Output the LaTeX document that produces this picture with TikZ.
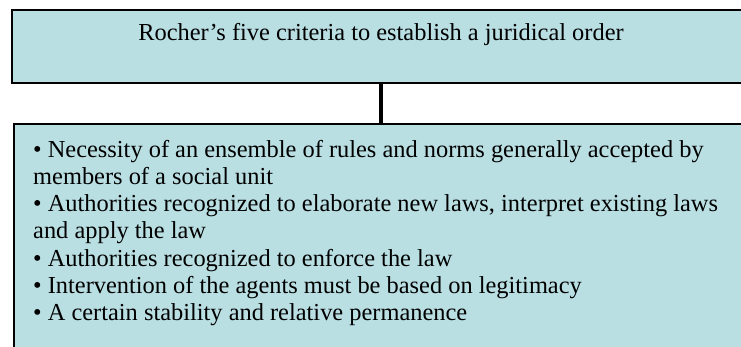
\documentclass[tikz,border=0pt]{standalone}
\usepackage{fontspec}
\setmainfont{Liberation Serif}
\definecolor{boxfill}{RGB}{185,223,227}
\begin{document}
\begin{tikzpicture}[x=1pt,y=-1pt,
  panel/.style={draw=black,fill=boxfill,line width=1.6pt,rectangle,inner sep=0pt,anchor=north west},
  txt/.style={font=\fontsize{24.4}{27.3}\selectfont,inner sep=0pt},
  link/.style={line width=4.5pt,draw=black}]
\useasboundingbox (0,0) rectangle (741,347);
\clip (0,0) rectangle (741,347);
\fill[white] (0,0) rectangle (741,347);
% heading box
\node[panel,minimum width=760pt,minimum height=73pt] (head) at (11,9) {};
\node[txt,anchor=base] (title) at (381,41) {Rocher’s five criteria to establish a juridical order};
% list box; the text node is anchored on the baseline of its last line
\node[panel,minimum width=760pt,minimum height=240pt] (list) at (13,123) {};
\node[txt,anchor=base west,align=left] (items) at (33,320.8)
  {• Necessity of an ensemble of rules and norms generally accepted by\\
   members of a social unit\\
   • Authorities recognized to elaborate new laws, interpret existing laws\\
   and apply the law\\
   • Authorities recognized to enforce the law\\
   • Intervention of the agents must be based on legitimacy\\
   • A certain stability and relative permanence};
% connector
\draw[link] (head.south -| title) -- (list.north -| title);
\end{tikzpicture}
\end{document}
